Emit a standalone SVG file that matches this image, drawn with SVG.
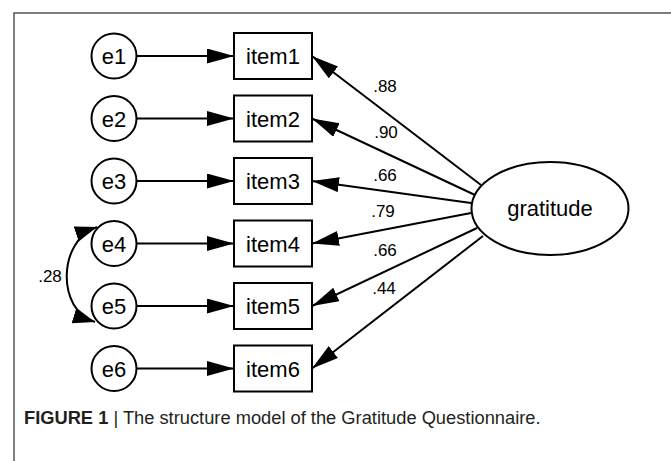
<svg xmlns="http://www.w3.org/2000/svg" width="671" height="461" viewBox="0 0 671 461">
<style>
  .node{fill:#fff;stroke:#000;stroke-width:2}
  .lbl{font-family:"Liberation Sans",Arial,sans-serif;font-size:22px;fill:#000;text-anchor:middle}
  .coef{font-family:"Liberation Sans",Arial,sans-serif;font-size:17px;fill:#000;text-anchor:middle}
  .edge{fill:none;stroke:#000;stroke-width:2}
  .cap{font-family:"Liberation Sans",Arial,sans-serif;font-size:18.3px;fill:#231f20}
</style>
<defs>
  <marker id="ah" markerUnits="userSpaceOnUse" markerWidth="28" markerHeight="16" refX="27" refY="7.5" orient="auto">
    <path d="M0,0 L27,7.5 L0,15 z" fill="#000"/>
  </marker>
  <marker id="ahs" markerUnits="userSpaceOnUse" markerWidth="24" markerHeight="18" refX="22" refY="8" orient="auto-start-reverse">
    <path d="M0,0 L22,8 L0,16 z" fill="#000"/>
  </marker>
</defs>
<rect width="671" height="461" fill="#fff"/>
<path d="M14,461 V13 H671" fill="none" stroke="#555" stroke-width="1.5"/>

<g id="connectors">
  <line class="edge" x1="136.5" y1="56" x2="234" y2="56" marker-end="url(#ah)"/>
  <line class="edge" x1="136.5" y1="118.5" x2="234" y2="118.5" marker-end="url(#ah)"/>
  <line class="edge" x1="136.5" y1="181" x2="234" y2="181" marker-end="url(#ah)"/>
  <line class="edge" x1="136.5" y1="243.5" x2="234" y2="243.5" marker-end="url(#ah)"/>
  <line class="edge" x1="136.5" y1="306" x2="234" y2="306" marker-end="url(#ah)"/>
  <line class="edge" x1="136.5" y1="368.5" x2="234" y2="368.5" marker-end="url(#ah)"/>
  <line class="edge" x1="481" y1="185" x2="312" y2="56" marker-end="url(#ah)"/>
  <line class="edge" x1="475" y1="195" x2="312" y2="118.5" marker-end="url(#ah)"/>
  <line class="edge" x1="471" y1="203" x2="312" y2="181" marker-end="url(#ah)"/>
  <line class="edge" x1="471" y1="213" x2="312" y2="243.5" marker-end="url(#ah)"/>
  <line class="edge" x1="477" y1="228" x2="312" y2="306" marker-end="url(#ah)"/>
  <line class="edge" x1="483" y1="236" x2="312" y2="368.5" marker-end="url(#ah)"/>
  <path class="edge" d="M97,227 C58,240 56,310 95,322" marker-start="url(#ahs)" marker-end="url(#ahs)"/>
  <text class="coef" x="385" y="92">.88</text>
  <text class="coef" x="386" y="138">.90</text>
  <text class="coef" x="385" y="181">.66</text>
  <text class="coef" x="383" y="217">.79</text>
  <text class="coef" x="385" y="256">.66</text>
  <text class="coef" x="384" y="294">.44</text>
  <text class="coef" x="50" y="282">.28</text>
</g>

<g id="e1"><circle class="node" cx="114" cy="56" r="22.5"/><text class="lbl" x="114" y="64">e1</text></g>
<g id="e2"><circle class="node" cx="114" cy="118.5" r="22.5"/><text class="lbl" x="114" y="126.5">e2</text></g>
<g id="e3"><circle class="node" cx="114" cy="181" r="22.5"/><text class="lbl" x="114" y="189">e3</text></g>
<g id="e4"><circle class="node" cx="114" cy="243.5" r="22.5"/><text class="lbl" x="114" y="251.5">e4</text></g>
<g id="e5"><circle class="node" cx="114" cy="306" r="22.5"/><text class="lbl" x="114" y="314">e5</text></g>
<g id="e6"><circle class="node" cx="114" cy="368.5" r="22.5"/><text class="lbl" x="114" y="376.5">e6</text></g>

<g id="item1"><rect class="node" x="234" y="33" width="78" height="46"/><text class="lbl" x="273" y="64">item1</text></g>
<g id="item2"><rect class="node" x="234" y="95.5" width="78" height="46"/><text class="lbl" x="273" y="126.5">item2</text></g>
<g id="item3"><rect class="node" x="234" y="158" width="78" height="46"/><text class="lbl" x="273" y="189">item3</text></g>
<g id="item4"><rect class="node" x="234" y="220.5" width="78" height="46"/><text class="lbl" x="273" y="251.5">item4</text></g>
<g id="item5"><rect class="node" x="234" y="283" width="78" height="46"/><text class="lbl" x="273" y="314">item5</text></g>
<g id="item6"><rect class="node" x="234" y="345.5" width="78" height="46"/><text class="lbl" x="273" y="376.5">item6</text></g>

<g id="gratitude"><ellipse class="node" cx="550" cy="208.5" rx="78.5" ry="46.5"/><text class="lbl" x="550" y="216">gratitude</text></g>

<text class="cap" x="24" y="424"><tspan font-weight="bold">FIGURE 1</tspan> | The structure model of the Gratitude Questionnaire.</text>
</svg>
